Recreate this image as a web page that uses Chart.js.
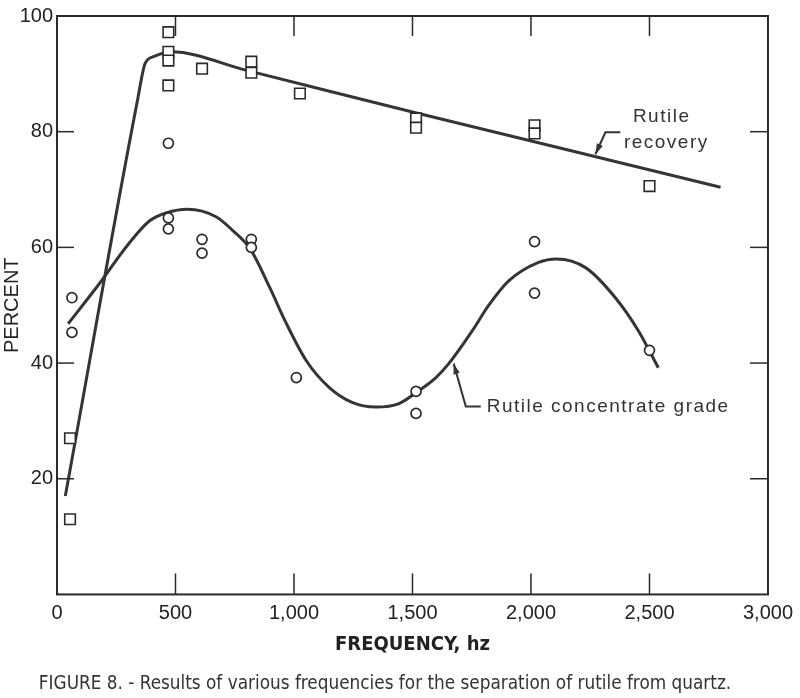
<!DOCTYPE html>
<html>
<head>
<meta charset="utf-8">
<script src="https://cdn.jsdelivr.net/npm/chart.js@4.4.1/dist/chart.umd.min.js"></script>
<style>
  html, body { margin: 0; padding: 0; background: #fff; }
</style>
</head>
<body>
<canvas id="myChart" width="800" height="698"></canvas>
<script>
// measured points, rutile recovery (squares)
const recFreq = [55, 55, 470, 470, 470, 470, 612, 820, 820, 1025, 1515, 1515, 2015, 2015, 2500];
const recPct = [27, 13, 97.2, 93.8, 92.3, 88, 90.9, 92.1, 90.2, 86.6, 82.3, 80.7, 81.1, 79.7, 70.6];

// measured points, rutile concentrate grade (circles)
const gradeFreq = [63, 63, 470, 470, 470, 612, 612, 820, 820, 1010, 1515, 1515, 2015, 2015, 2500];
const gradePct = [51.3, 45.3, 78, 65.1, 63.2, 61.4, 59.0, 61.4, 60.0, 37.5, 35.1, 31.3, 61.0, 52.1, 42.2];

// hand drawn curves
const recCurveFreq = [35, 340, 372, 410, 480, 800, 1500, 2200, 2800];
const recCurvePct = [17, 85.5, 91.8, 93.0, 93.8, 90.6, 83.4, 76.4, 70.4];

const gradeCurveFreq = [47, 180, 300, 391, 463, 551, 671, 742, 816, 896, 967, 1052, 1148, 1245, 1346,
    1443, 1515, 1599, 1653, 1751, 1822, 1906, 2032, 2108, 2230, 2356, 2453, 2537];
const gradeCurvePct = [46.8, 53.8, 60.5, 64.6, 66.0, 66.6, 65.3, 62.9, 59.7, 53.2, 46.9, 40.4, 35.8, 33.2, 32.4,
    33.0, 34.9, 37.5, 39.9, 45.5, 50.0, 54.2, 57.4, 58.0, 56.5, 51.3, 45.6, 39.2];

// axis ticks
const xTicks = [0, 500, 1000, 1500, 2000, 2500, 3000];
const yTicks = [0, 20, 40, 60, 80, 100];

const ink = "#2a2a2a";
const toXY = (xs, ys) => xs.map((v, i) => ({x: v, y: ys[i]}));

// callouts, in data units
const notes = [
    {text: [["Rutile", 2430, 82.6], ["recovery", 2392, 78.0]],
     leader: [[2377, 79.9], [2314, 79.9], [2272, 76.1]]},
    {text: [["Rutile concentrate grade", 1813, 32.5]],
     leader: [[1788, 32.5], [1725, 32.5], [1674, 39.9]]}
];

const framePlugin = {
    id: "frame",
    afterDatasetsDraw(chart) {
        const {ctx, chartArea: a, scales: {x, y}} = chart;
        ctx.save();
        ctx.strokeStyle = ink;
        ctx.lineWidth = 2;
        ctx.strokeRect(a.left, a.top, a.right - a.left, a.bottom - a.top);
        const seg = (x1, y1, x2, y2) => {
            ctx.beginPath(); ctx.moveTo(x1, y1); ctx.lineTo(x2, y2); ctx.stroke();
        };
        ctx.lineWidth = 1.5;
        xTicks.slice(1, -1).forEach(v => {
            const px = x.getPixelForValue(v);
            seg(px, a.bottom, px, a.bottom - 21);
            seg(px, a.top, px, a.top + 20);
        });
        yTicks.slice(1, -1).forEach(v => {
            const py = y.getPixelForValue(v);
            seg(a.left, py, a.left + 17, py);
            seg(a.right, py, a.right - 18, py);
        });

        // callouts
        ctx.fillStyle = "#333";
        ctx.font = "19px 'Liberation Sans', Arial, sans-serif";
        ctx.letterSpacing = "1.5px";
        ctx.textBaseline = "middle";
        ctx.textAlign = "left";
        notes.forEach(n => {
            n.text.forEach(t => ctx.fillText(t[0], x.getPixelForValue(t[1]), y.getPixelForValue(t[2])));
            const pts = n.leader.map(p => [x.getPixelForValue(p[0]), y.getPixelForValue(p[1])]);
            ctx.lineWidth = 2;
            ctx.strokeStyle = "#333";
            ctx.beginPath();
            ctx.moveTo(pts[0][0], pts[0][1]);
            pts.slice(1).forEach(p => ctx.lineTo(p[0], p[1]));
            ctx.stroke();
            // arrow head at the last point
            const [tx, ty] = pts[pts.length - 1];
            const [px, py] = pts[pts.length - 2];
            const ang = Math.atan2(ty - py, tx - px);
            ctx.beginPath();
            ctx.moveTo(tx, ty);
            ctx.lineTo(tx - 11 * Math.cos(ang - 0.3), ty - 11 * Math.sin(ang - 0.3));
            ctx.lineTo(tx - 11 * Math.cos(ang + 0.3), ty - 11 * Math.sin(ang + 0.3));
            ctx.closePath();
            ctx.fill();
        });
        ctx.restore();
    }
};

Chart.defaults.font.family = "'Liberation Sans', Arial, sans-serif";
Chart.defaults.color = "#222";

var ctx = document.getElementById("myChart");
var config = {
    type: "scatter",
    data: {
        datasets: [{
            label: "Rutile recovery curve",
            data: toXY(recCurveFreq, recCurvePct),
            showLine: true,
            borderColor: "#353535",
            borderWidth: 3,
            pointRadius: 0,
            cubicInterpolationMode: "monotone",
            order: 3
        }, {
            label: "Rutile concentrate grade curve",
            data: toXY(gradeCurveFreq, gradeCurvePct),
            showLine: true,
            borderColor: "#353535",
            borderWidth: 3,
            pointRadius: 0,
            cubicInterpolationMode: "monotone",
            order: 3
        }, {
            label: "Rutile recovery",
            data: toXY(recFreq, recPct),
            pointStyle: "rect",
            pointRadius: 7.5,
            borderColor: ink,
            backgroundColor: "#fff",
            borderWidth: 1.6,
            order: 1
        }, {
            label: "Rutile concentrate grade",
            data: toXY(gradeFreq, gradePct),
            pointStyle: "circle",
            pointRadius: 5,
            borderColor: ink,
            backgroundColor: "#fff",
            borderWidth: 1.7,
            order: 1
        }]
    },
    options: {
        responsive: false,
        animation: false,
        layout: {
            padding: {top: 2, right: 30, left: 0, bottom: 0}
        },
        plugins: {
            legend: {display: false},
            tooltip: {enabled: false},
            title: {
                display: true,
                position: "bottom",
                text: "FIGURE 8. - Results of various frequencies for the separation of rutile from quartz.",
                font: {family: "'Liberation Sans Narrow', 'DejaVu Sans Condensed', sans-serif", size: 18.8, weight: "normal"},
                color: "#333",
                padding: {top: 4, bottom: 3}
            }
        },
        scales: {
            x: {
                type: "linear",
                min: 0,
                max: 3000,
                afterBuildTicks: scale => { scale.ticks = xTicks.map(v => ({value: v})); },
                afterFit: scale => { scale.height = 74; },
                grid: {display: false, drawTicks: false},
                border: {display: false},
                ticks: {
                    padding: 7,
                    maxRotation: 0,
                    font: {size: 20},
                    callback: v => v.toLocaleString("en-US")
                },
                title: {
                    display: true,
                    text: "FREQUENCY, hz",
                    font: {family: "'Liberation Sans Narrow', 'DejaVu Sans Condensed', sans-serif", size: 20, weight: "bold"},
                    color: "#222",
                    padding: {top: 0, bottom: 12}
                }
            },
            y: {
                min: 0,
                max: 100,
                afterBuildTicks: scale => { scale.ticks = yTicks.map(v => ({value: v})); },
                afterFit: scale => { scale.width = 57; },
                grid: {display: false, drawTicks: false},
                border: {display: false},
                ticks: {
                    padding: 4,
                    font: {size: 20},
                    callback: v => v === 0 ? "" : v
                },
                title: {
                    display: true,
                    text: "PERCENT",
                    font: {size: 20},
                    color: "#222",
                    padding: {top: 0, bottom: 0}
                }
            }
        }
    },
    plugins: [framePlugin]
};
var myChart = new Chart(ctx, config);
</script>
</body>
</html>
